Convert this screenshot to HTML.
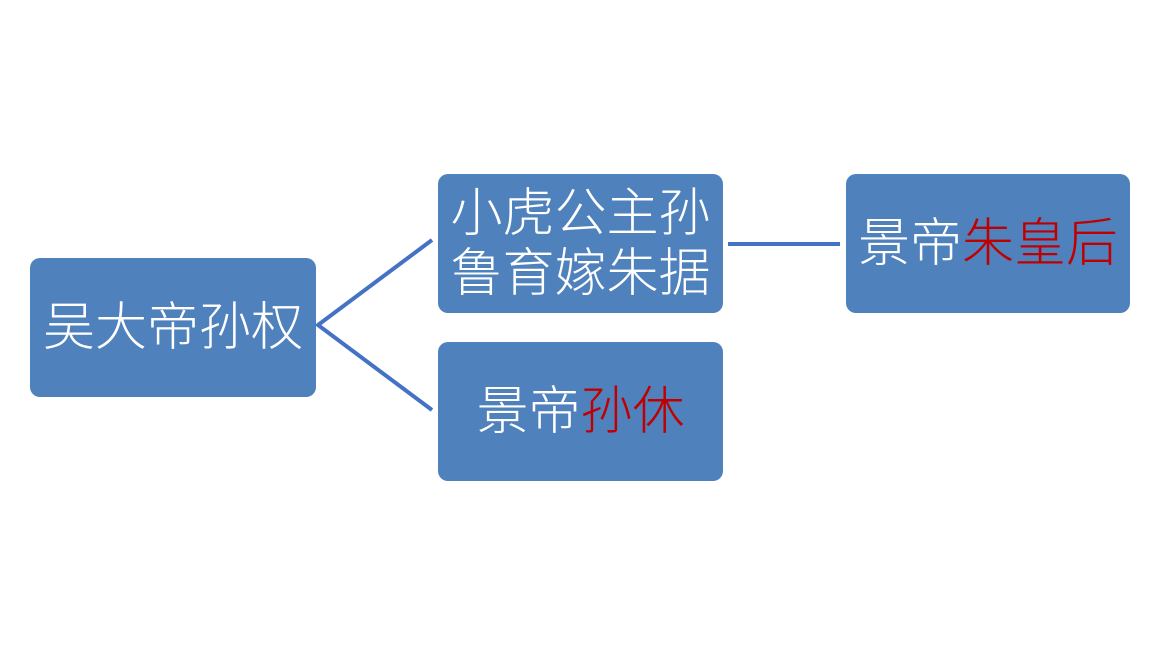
<!DOCTYPE html>
<html><head><meta charset="utf-8"><style>
body{margin:0;width:1162px;height:654px;background:#fff;position:relative;overflow:hidden;font-family:"Liberation Sans","Noto Sans CJK SC",sans-serif;}
.b{position:absolute;background:#4f81bd;border-radius:10px;color:#fff;font-size:52px;font-weight:300;line-height:60px;display:flex;align-items:center;justify-content:center;text-align:center;white-space:nowrap;}
.r{color:#c00000;}
svg{position:absolute;left:0;top:0;}
</style></head><body>
<svg width="1162" height="654"><g stroke="#4472c4" stroke-width="4" fill="none">
<polyline points="432,240 318,325 432,410"/>
<line x1="728" y1="244" x2="840" y2="244"/>
</g></svg>
<div class="b" style="left:30px;top:258px;width:286px;height:139px;">吴大帝孙权</div>
<div class="b" style="left:438px;top:174px;width:285px;height:139px;">小虎公主孙<br>鲁育嫁朱据</div>
<div class="b" style="left:438px;top:342px;width:285px;height:139px;">景帝<span class="r">孙休</span></div>
<div class="b" style="left:846px;top:174px;width:284px;height:139px;">景帝<span class="r">朱皇后</span></div>
</body></html>
